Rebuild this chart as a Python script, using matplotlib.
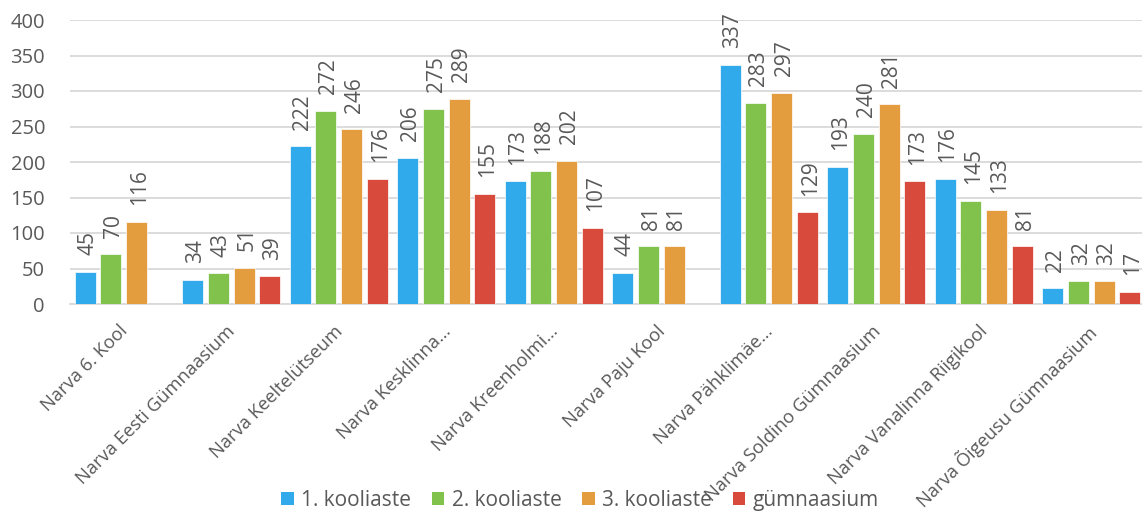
import matplotlib.pyplot as plt
import numpy as np
from matplotlib.patches import Patch

# Chart data
schools = ['Narva 6. Kool', 'Narva Eesti Gümnaasium', 'Narva Keeltelütseum',
           'Narva Kesklinna…', 'Narva Kreenholmi…', 'Narva Paju Kool',
           'Narva Pähklimäe…', 'Narva Soldino Gümnaasium',
           'Narva Vanalinna Riigikool', 'Narva Õigeusu Gümnaasium']
series_names = ['1. kooliaste', '2. kooliaste', '3. kooliaste', 'gümnaasium']
kool1 = [45, 34, 222, 206, 173, 44, 337, 193, 176, 22]
kool2 = [70, 43, 272, 275, 188, 81, 283, 240, 145, 32]
kool3 = [116, 51, 246, 289, 202, 81, 297, 281, 133, 32]
gymn = [np.nan, 39, 176, 155, 107, np.nan, 129, 173, 81, 17]
y_ticks = [0, 50, 100, 150, 200, 250, 300, 350, 400]

colors = ['#30aaea', '#80c24c', '#e39c3e', '#d84a3c']
text_color = '#595959'
plt.rcParams['font.family'] = ['Open Sans', 'DejaVu Sans']

fig = plt.figure(figsize=(11.42, 5.12), dpi=100)
ax = fig.add_axes([70 / 1142, 1 - 304 / 512, 1075 / 1142, 284 / 512])

x = np.arange(len(schools))
step = 0.239
width = 0.195
all_series = [kool1, kool2, kool3, gymn]
for i, vals in enumerate(all_series):
    pos = x + (i - 1.5) * step
    ax.bar(pos, vals, width, color=colors[i], edgecolor='white', linewidth=0.5, zorder=3)
    # Value labels, rotated
    for xp, v in zip(pos, vals):
        if np.isnan(v):
            continue
        ax.annotate(str(int(v)), (xp, v), xytext=(2, 12), textcoords='offset points',
                    rotation=90, ha='center', va='bottom', fontsize=15, color=text_color)

ax.set_xlim(-0.5, len(schools) - 0.5)
ax.set_ylim(0, 400)
ax.set_yticks(y_ticks)
ax.tick_params(axis='y', length=0, labelsize=14.5, labelcolor=text_color, pad=18)
ax.set_yticklabels([str(t) for t in y_ticks])
ax.grid(axis='y', color='#d9d9d9', linewidth=1.3, zorder=0)
ax.set_axisbelow(True)
for s in ['top', 'right', 'left']:
    ax.spines[s].set_visible(False)
ax.spines['bottom'].set_color('#d9d9d9')
ax.spines['bottom'].set_linewidth(1.3)

ax.set_xticks(x - 0.045)
ax.set_xticklabels(schools, rotation=45, ha='right', rotation_mode='anchor',
                   fontsize=13.2, color=text_color)
ax.tick_params(axis='x', length=0, pad=13)

handles = [Patch(facecolor=c, label=n) for c, n in zip(colors, series_names)]
fig.legend(handles=handles, loc='lower center', bbox_to_anchor=(0.508, -0.035), ncol=4,
           frameon=False, fontsize=15, handlelength=0.6, handleheight=0.6,
           handletextpad=0.35, columnspacing=1.0, labelcolor=text_color)

fig.savefig('out.png', dpi=100)
